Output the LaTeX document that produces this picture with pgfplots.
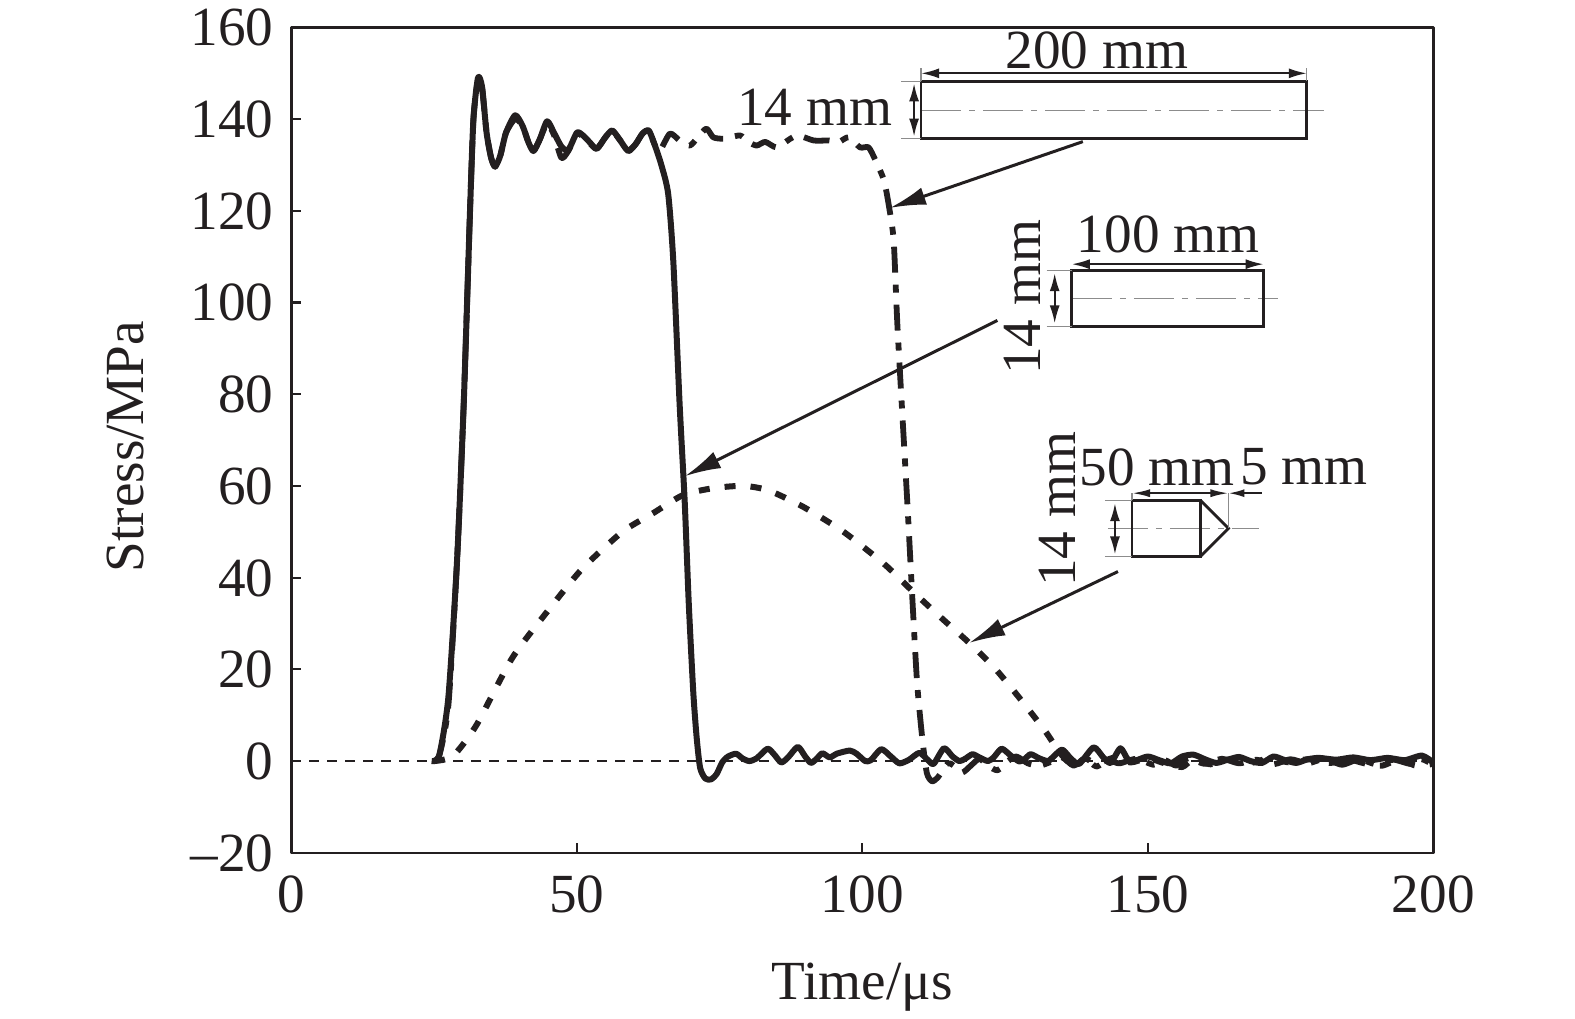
\documentclass[border=0pt]{standalone}
\usepackage{fontspec}
\setmainfont{Liberation Serif}
\usepackage{pgfplots}
\pgfplotsset{compat=1.18}
\usetikzlibrary{arrows.meta}
\definecolor{ink}{HTML}{231F20}
\definecolor{greyline}{HTML}{8C8C8C}

% 200 mm rod
\pgfplotstableread{
t s
24.6 0
25.9 1.2
27.5 12
29.0 43
30.2 78
31.3 120
31.9 140
32.7 148.5
33.4 147
34.2 137
35.0 131.5
35.7 129.6
36.6 132
37.6 137
39.2 140
40.5 138.5
41.5 135
42.4 133
43.5 135.5
44.8 139
46 136.5
47.3 131.5
48.5 133
50 136.8
51 136.2
52.2 134.8
53.5 133.5
55 136
56.2 137.4
57.5 135.5
59 133.2
60.3 134.5
61.5 136.8
62.6 137.5
63.6 134.5
64.5 133
66.3 136.8
68 135.3
69.8 134.2
71.2 136
72.7 137.9
73.9 136
75.7 135.7
78.6 136.4
80 135
81.5 134.2
83 135
85 133.8
87.4 135.7
88.8 136.4
91.5 135.3
94.1 135.3
95.9 135
97.6 136
99.6 133.8
101.1 133.8
102.3 131
103.8 126.6
104.7 120.7
105.5 113.4
106.2 93.7
107.9 56
108.8 34.6
109.6 17
110.5 5
111.3 -2.6
112.2 -4.4
113.2 -3.6
115 -0.5
116 -1
117.5 -2.5
119 -1
120.5 0.5
122 -1
123.7 -2
125.5 0
127 1
129 -0.5
131 -1
133 -0.2
135 0.8
137 -1
139 0.5
141 -1.2
143 0.2
145 -0.5
148 0.5
151 -0.8
153 0.2
155 -1
157 0.6
160 -0.6
163 0.5
166 -0.5
169 0.3
172 -0.7
175 0.4
178 -0.5
181 0.5
184 -0.8
187 0.4
190 -0.7
193 0.3
196 -0.6
198 0.4
200 -0.8
}\rodlong

% 100 mm rod
\pgfplotstableread{
t s
24.6 0
25.9 1.2
27.5 13.8
29.0 43
30.2 78
31.3 120
31.9 140
32.7 149
33.4 147
34.2 137
35.0 131.5
35.7 129.6
36.6 132
37.6 137
39.2 140.8
40.5 138.5
41.5 135
42.4 133
43.5 135.5
44.8 139.5
46 137
47.3 134
48.5 133.2
50 137
51 136.5
52.2 135
53.5 133.5
55 136
56.2 137.5
57.5 135.5
59 133
60.3 134.5
61.5 136.8
62.6 137.5
63.6 134.5
64.8 130
66 123.7
66.9 109
68.0 78
68.9 56.5
69.6 34.6
70.4 15
71.0 5
71.6 -1.5
72.5 -3.8
73.5 -4
74.5 -2.8
75.5 -0.2
76.5 1
77.9 1.6
79 0.6
80.2 0
81.5 0.6
83.4 2.7
84.6 1.4
85.8 -0.3
87 0.8
88.7 3.1
90 1
91 -0.4
92 0.5
93 1.7
94.3 0.8
95.5 1.6
97.8 2.3
99 1.6
100.5 0
101.5 0.2
103.3 2.6
105 1
106.5 -0.5
108.2 0.3
110 1.8
111.5 0.2
112.5 -0.6
114.3 2.8
115.8 1
117 0
118 0.5
119.3 1.5
120.5 0.8
122 0
123 0.8
124.4 2.7
126 1.2
127.5 -0.1
128.5 0.5
129.5 1.5
131 0.6
132.5 0
133.5 1
135 2.5
136.5 0.6
138 -0.6
140.5 3
142.2 0.8
143.5 -0.4
145.2 2.8
146.5 0.4
148 0.2
150 1
152 0.2
154 -0.5
156 1
158 1.4
160 0.4
162 -0.4
164 0.3
166 0.9
168 0
170 -0.4
172 1
174 0.2
176 -0.4
178 0.4
180 0.7
183 0.3
186 0.8
189 0.2
192 0.7
195 0.2
198 1.2
200 -0.3
}\rodmid

% 50 mm rod with cone
\pgfplotstableread{
t s
25 0
27 0.4
29 2
32.5 8
38.7 22.5
45.4 33.5
51 42
58 50
63.3 54
68.6 58
73.9 59.5
79.2 60
83.6 59
89.7 55.4
96.7 50
103.8 43
109 36.8
114.3 30.7
118.7 25.8
123.1 20.4
127.5 13.8
132 6.6
134.6 1.8
137 -1
139 0.6
141 -0.6
144 0.7
147 -0.3
150 0.6
153 -0.5
156 -1.3
158 0.4
161 -0.7
164 0.3
168 -0.4
171 0.5
175 -0.3
178 0.4
182 -0.4
185 0.4
188 -0.5
191 -1
194 0.3
197 -1
200 -0.6
}\rodcone

\begin{document}
\begin{tikzpicture}[font=\fontsize{27.6}{30}\selectfont, color=ink]
\path[use as bounding box] (0,0) rectangle (787.5pt,-509pt);
\begin{axis}[
    at={(145.65pt,-426.4pt)}, anchor=south west,
    scale only axis, width=571pt, height=412.8pt,
    xmin=0, xmax=200, ymin=-20, ymax=160,
    xtick={0,50,100,150,200}, xticklabels={0,50,100,150,200},
    ytick={-20,0,20,40,60,80,100,120,140,160},
    yticklabels={--20,0,20,40,60,80,100,120,140,160},
    tick pos=left, tick align=inside, major tick length=5pt,
    axis line style={ink, line width=1.3pt},
    every tick/.style={ink, line width=1.1pt},
    tick label style={font=\fontsize{27.6}{30}\selectfont, text=ink},
    x tick label style={yshift=-8pt},
    y tick label style={xshift=-5.5pt, yshift=-0.2pt},
    xlabel={Time/μs}, ylabel={Stress/MPa},
    xlabel style={font=\fontsize{27.6}{30}\selectfont, text=ink, at={(axis description cs:0.5,-0.163)}, anchor=center},
    ylabel style={font=\fontsize{27.6}{30}\selectfont, text=ink, at={(axis description cs:-0.145,0.492)}, anchor=center},
    line join=round,
]
\addplot[ink, line width=1.2pt, dash pattern=on 5pt off 4pt, forget plot] coordinates {(0,0) (200,0)};
\addplot[ink, line width=2.9pt, smooth, tension=0.4, dash pattern=on 13pt off 6pt on 4pt off 6pt] table[x=t,y=s] {\rodlong};
\addplot[ink, line width=3pt, smooth, tension=0.4, dash pattern=on 5.5pt off 7.5pt] table[x=t,y=s] {\rodcone};
\addplot[ink, line width=3pt, smooth, tension=0.4] table[x=t,y=s] {\rodmid};
\end{axis}

% schematics, in read-off pixels
\begin{scope}[x=0.50223pt, y=-0.50223pt]
\tikzset{
  rod/.style={ink, line width=1.4pt},
  ext/.style={greyline, line width=0.6pt},
  axisline/.style={greyline, line width=0.6pt, dash pattern=on 20pt off 4pt on 3pt off 4pt},
  dim/.style={ink, line width=1pt, {Latex[length=9pt,width=5pt]}-{Latex[length=9pt,width=5pt]}},
  lead/.style={ink, line width=1.5pt, -{Latex[length=18pt,width=9pt]}},
}
% 200 mm
\draw[axisline] (917,110) -- (1318,110);
\draw[rod] (917,81) rectangle (1301,138);
\draw[ext] (897,81) -- (917,81) (897,138) -- (917,138) (917,68) -- (917,81) (1301,68) -- (1301,81);
\draw[dim] (917,73) -- (1301,73);
\draw[dim] (910,83) -- (910,136);
\node at (1092,50) {200 mm};
\node at (811,107) {14 mm};
\draw[lead] (1078,141) -- (886,207);
% 100 mm
\draw[axisline] (1067,297) -- (1272,297);
\draw[rod] (1067,269) rectangle (1258,325);
\draw[ext] (1042,269) -- (1067,269) (1042,325) -- (1067,325);
\draw[dim] (1067,263) -- (1258,263);
\draw[dim] (1050,272) -- (1050,322);
\node at (1163,233) {100 mm};
\node[rotate=90] at (1018,296) {14 mm};
\draw[lead] (993,319) -- (682,474);
% 50 mm + cone
\draw[axisline] (1103,526) -- (1253,526);
\draw[rod] (1195,498) -- (1127,498) -- (1127,554) -- (1195,554) -- cycle;
\draw[rod] (1195,498) -- (1223,526) -- (1195,554);
\draw[ext] (1100,498) -- (1127,498) (1100,554) -- (1127,554) (1223,491) -- (1223,526) (1127,491) -- (1127,498);
\draw[ink, line width=1pt, {Latex[length=9pt,width=4pt]}-{Latex[length=9pt,width=4pt]}] (1127,491) -- (1223,491);
\draw[ink, line width=1pt, -{Latex[length=8pt,width=4pt]}] (1256,491) -- (1223,491);
\draw[dim] (1110,501) -- (1110,552);
\node at (1152,465) {50 mm};
\node at (1298,465) {5 mm};
\node[rotate=90] at (1053,507) {14 mm};
\draw[lead] (1113,569) -- (965,640);
\end{scope}
\end{tikzpicture}
\end{document}
